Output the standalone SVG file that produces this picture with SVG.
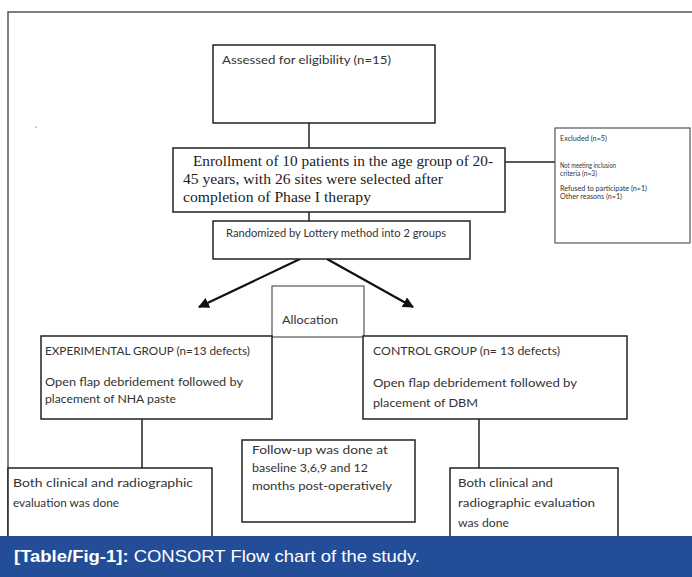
<svg xmlns="http://www.w3.org/2000/svg" width="692" height="577" viewBox="0 0 692 577">
  <defs>
    <style>
      .box { fill: #ffffff; stroke: #222222; stroke-width: 1.5; }
      .lbox { fill: #ffffff; stroke: #555555; stroke-width: 1.2; }
      .t { font-family: Lato, "Open Sans", "Liberation Sans", sans-serif; fill: #333333; font-size: 10.5px; }
      .ts { font-family: Lato, "Open Sans", "Liberation Sans", sans-serif; fill: #333333; font-size: 7px; }
      .serif { font-family: "Liberation Serif", "Times New Roman", serif; fill: #222222; font-size: 15px; }
      .ln { stroke: #222222; stroke-width: 1.5; fill: none; }
      .arr { stroke: #111111; stroke-width: 2.2; fill: none; }
      .cap { font-family: "Liberation Sans", Arial, sans-serif; fill: #ffffff; font-size: 17px; }
    </style>
    <marker id="ah" viewBox="0 0 10 10" refX="9" refY="5" markerWidth="5" markerHeight="5" orient="auto" markerUnits="strokeWidth">
      <path d="M0,0 L10,5 L0,10 z" fill="#111111"/>
    </marker>
  </defs>

  <rect x="0" y="0" width="692" height="577" fill="#ffffff"/>

  <!-- outer frame -->
  <path d="M8,536 L8,12 L692,12" fill="none" stroke="#555555" stroke-width="1.5"/>
  <rect x="35.5" y="126.5" width="1.2" height="1.2" fill="#888888"/>

  <!-- connectors -->
  <g id="connectors">
    <line class="ln" x1="309" y1="123" x2="309" y2="148"/>
    <line class="ln" x1="505" y1="162" x2="555" y2="162"/>
    <line class="ln" x1="309" y1="212" x2="309" y2="221"/>
    <line class="arr" x1="300" y1="259" x2="199" y2="307" marker-end="url(#ah)"/>
    <line class="arr" x1="327" y1="259" x2="413" y2="307" marker-end="url(#ah)"/>
    <line class="ln" x1="142" y1="419" x2="142" y2="468" stroke="#555555" stroke-width="1.2"/>
    <line class="ln" x1="479" y1="419" x2="479" y2="468"/>
  </g>

  <g id="assessed">
    <rect class="box" x="213" y="45" width="222" height="78"/>
    <text class="t" x="222" y="64" font-size="11" textLength="169" lengthAdjust="spacingAndGlyphs">Assessed for eligibility (n=15)</text>
  </g>

  <g id="enrollment">
    <rect class="box" x="173" y="148" width="332" height="64"/>
    <text class="serif" x="193" y="166" textLength="300" lengthAdjust="spacingAndGlyphs">Enrollment of 10 patients in the age group of 20-</text>
    <text class="serif" x="183" y="184" textLength="260" lengthAdjust="spacingAndGlyphs">45 years, with 26 sites were selected after</text>
    <text class="serif" x="183" y="202" textLength="188" lengthAdjust="spacingAndGlyphs">completion of Phase I therapy</text>
  </g>

  <g id="excluded">
    <rect class="lbox" x="555" y="128" width="135" height="115"/>
    <text class="ts" x="560" y="141" textLength="47" lengthAdjust="spacingAndGlyphs">Excluded (n=5)</text>
    <text class="ts" x="560" y="168" textLength="56" lengthAdjust="spacingAndGlyphs">Not meeting inclusion</text>
    <text class="ts" x="560" y="176" textLength="37" lengthAdjust="spacingAndGlyphs">criteria (n=3)</text>
    <text class="ts" x="560" y="191" textLength="87" lengthAdjust="spacingAndGlyphs">Refused to participate (n=1)</text>
    <text class="ts" x="560" y="199" textLength="62" lengthAdjust="spacingAndGlyphs">Other reasons (n=1)</text>
  </g>

  <g id="randomized">
    <rect class="box" x="213" y="221" width="257" height="38"/>
    <text class="t" x="226" y="237" font-size="9.5" textLength="220" lengthAdjust="spacingAndGlyphs">Randomized by Lottery method into 2 groups</text>
  </g>

  <g id="allocation">
    <rect class="lbox" x="272" y="286" width="92" height="51"/>
    <text class="t" x="282" y="324" textLength="56" lengthAdjust="spacingAndGlyphs">Allocation</text>
  </g>

  <g id="experimental">
    <rect class="box" x="41" y="336" width="231" height="83"/>
    <text class="t" x="45" y="355" textLength="205" lengthAdjust="spacingAndGlyphs">EXPERIMENTAL GROUP (n=13 defects)</text>
    <text class="t" x="45" y="386" textLength="198" lengthAdjust="spacingAndGlyphs">Open flap debridement followed by</text>
    <text class="t" x="45" y="403" textLength="131" lengthAdjust="spacingAndGlyphs">placement of NHA paste</text>
  </g>

  <g id="control">
    <rect class="box" x="363" y="336" width="264" height="83"/>
    <text class="t" x="373" y="355" textLength="187" lengthAdjust="spacingAndGlyphs">CONTROL GROUP (n= 13 defects)</text>
    <text class="t" x="373" y="387" textLength="204" lengthAdjust="spacingAndGlyphs">Open flap debridement followed by</text>
    <text class="t" x="373" y="407" textLength="105" lengthAdjust="spacingAndGlyphs">placement of DBM</text>
  </g>

  <g id="eval-left">
    <rect class="box" x="8" y="468" width="204" height="80"/>
    <text class="t" x="13" y="487" textLength="180" lengthAdjust="spacingAndGlyphs">Both clinical and radiographic</text>
    <text class="t" x="13" y="507" textLength="106" lengthAdjust="spacingAndGlyphs">evaluation was done</text>
  </g>

  <g id="followup">
    <rect class="box" x="242" y="440" width="173" height="82"/>
    <text class="t" x="252" y="454" textLength="136" lengthAdjust="spacingAndGlyphs">Follow-up was done at</text>
    <text class="t" x="252" y="472" textLength="116" lengthAdjust="spacingAndGlyphs">baseline 3,6,9 and 12</text>
    <text class="t" x="252" y="490" textLength="140" lengthAdjust="spacingAndGlyphs">months post-operatively</text>
  </g>

  <g id="eval-right">
    <rect class="box" x="450" y="468" width="168" height="80"/>
    <text class="t" x="458" y="487" textLength="95" lengthAdjust="spacingAndGlyphs">Both clinical and</text>
    <text class="t" x="458" y="507" textLength="137" lengthAdjust="spacingAndGlyphs">radiographic evaluation</text>
    <text class="t" x="458" y="527" textLength="51" lengthAdjust="spacingAndGlyphs">was done</text>
  </g>

  <!-- caption band -->
  <g id="caption">
    <rect x="0" y="536" width="692" height="41" fill="#234e97"/>
    <text class="cap" x="14" y="562" textLength="406" lengthAdjust="spacingAndGlyphs"><tspan font-weight="bold">[Table/Fig-1]:</tspan> CONSORT Flow chart of the study.</text>
  </g>
</svg>
